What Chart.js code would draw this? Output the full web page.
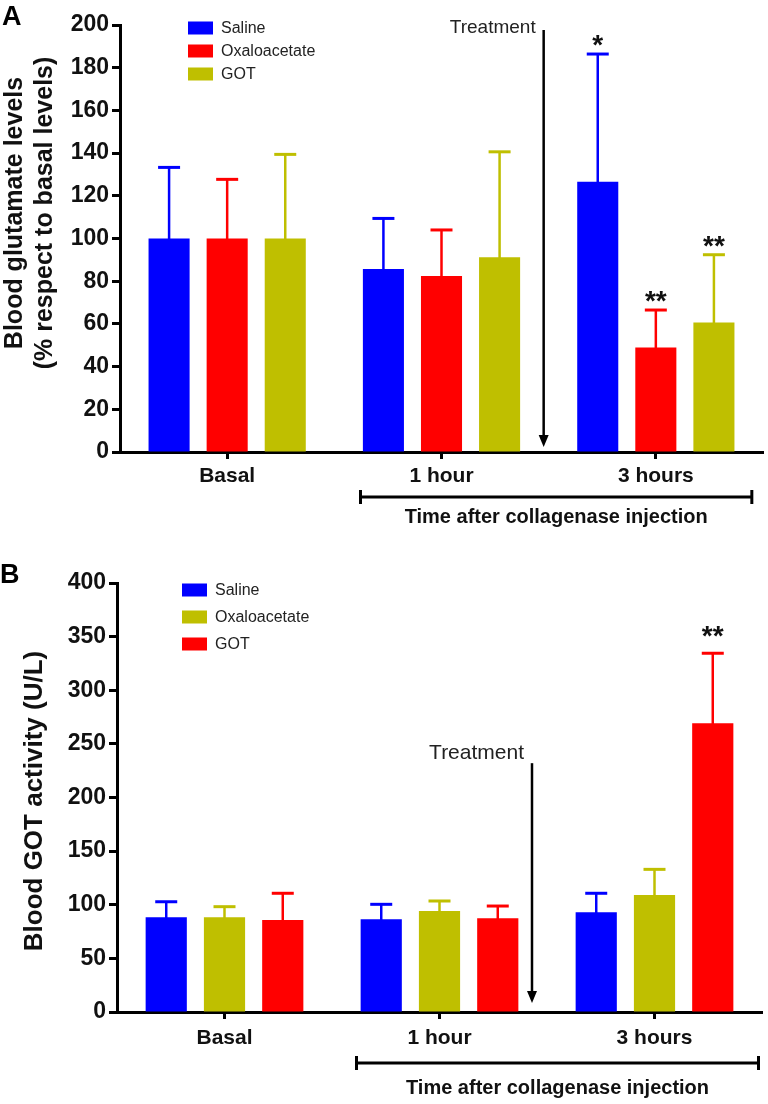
<!DOCTYPE html>
<html>
<head>
<meta charset="utf-8">
<script src="https://cdn.jsdelivr.net/npm/chart.js@4.4.1/dist/chart.umd.min.js"></script>
<style>
html,body{margin:0;padding:0;background:#fff;}
canvas{position:absolute;left:0;}
#chartA{top:0;}
#chartB{top:540px;}
</style>
</head>
<body>
<canvas id="chartA" width="768" height="540"></canvas>
<canvas id="chartB" width="768" height="564"></canvas>
<script>
var timeLabels = ['Basal', '1 hour', '3 hours'];

// panel A - blood glutamate, % of basal
var glutSaline = [100, 85.7, 126.6];
var glutSalineErr = [33.3, 23.7, 59.8];
var glutOxa = [100, 82.4, 48.9];
var glutOxaErr = [27.7, 21.6, 17.6];
var glutGot = [100, 91.2, 60.7];
var glutGotErr = [39.4, 49.4, 31.7];
var glutStars = [['', '', '*'], ['', '', '**'], ['', '', '**']];

// panel B - blood GOT activity (U/L)
var gotSaline = [88.3, 86.4, 93];
var gotSalineErr = [14.5, 14, 17.7];
var gotOxa = [88.3, 94.2, 109.1];
var gotOxaErr = [9.9, 9.3, 23.9];
var gotGot = [85.8, 87.4, 269.2];
var gotGotErr = [24.9, 11.4, 65.3];
var gotStars = [['', '', ''], ['', '', ''], ['', '', '**']];

var BLUE = '#0000ff', RED = '#ff0000', OLIVE = '#bfbf00';
var FONT = '"Liberation Sans", Arial, sans-serif';

var extrasPlugin = {
    id: 'extras',
    afterDatasetsDraw: function(chart, args, o) {
        var ctx = chart.ctx;
        var xs = chart.scales.x, ys = chart.scales.y;
        var area = chart.chartArea;
        ctx.save();

        // error bars + stars
        chart.data.datasets.forEach(function(ds, i) {
            var meta = chart.getDatasetMeta(i);
            meta.data.forEach(function(bar, j) {
                var top = ys.getPixelForValue(ds.data[j] + ds.err[j]);
                ctx.strokeStyle = ds.backgroundColor;
                ctx.lineWidth = 2.5;
                ctx.beginPath();
                ctx.moveTo(bar.x, bar.y + 1);
                ctx.lineTo(bar.x, top);
                ctx.stroke();
                ctx.lineWidth = 3;
                ctx.beginPath();
                ctx.moveTo(bar.x - 11, top);
                ctx.lineTo(bar.x + 11, top);
                ctx.stroke();
                if (ds.stars[j]) {
                    ctx.fillStyle = '#111';
                    ctx.font = 'bold 28px ' + FONT;
                    ctx.textAlign = 'center';
                    ctx.textBaseline = 'alphabetic';
                    ctx.fillText(ds.stars[j], bar.x, top + o.starShift);
                }
            });
        });

        // legend
        ctx.font = '16px ' + FONT;
        ctx.textAlign = 'left';
        ctx.textBaseline = 'middle';
        chart.data.datasets.forEach(function(ds, i) {
            var cy = o.legendY + i * o.legendGap;
            ctx.fillStyle = ds.backgroundColor;
            ctx.fillRect(o.legendX, cy - 6.5, 25, 13);
            ctx.fillStyle = '#222';
            ctx.fillText(ds.label, o.legendX + 33, cy + 1);
        });

        // treatment arrow
        var ax = (xs.getPixelForValue(1) + xs.getPixelForValue(2)) / 2 + o.arrowShift;
        var aTop = ys.getPixelForValue(o.arrowFrom);
        var aTip = ys.getPixelForValue(o.arrowTo);
        ctx.strokeStyle = '#000';
        ctx.fillStyle = '#000';
        ctx.lineWidth = 2.5;
        ctx.beginPath();
        ctx.moveTo(ax, aTop);
        ctx.lineTo(ax, aTip - 8);
        ctx.stroke();
        ctx.beginPath();
        ctx.moveTo(ax - 5, aTip - 12);
        ctx.lineTo(ax + 5, aTip - 12);
        ctx.lineTo(ax, aTip);
        ctx.closePath();
        ctx.fill();
        ctx.fillStyle = '#222';
        ctx.font = o.treatFont + 'px ' + FONT;
        ctx.textAlign = 'right';
        ctx.textBaseline = 'middle';
        ctx.fillText('Treatment', ax - o.treatDx, aTop + o.treatDy);

        // bracket under the time points
        var bl = xs.getPixelForValue(1) + o.bracketL;
        var br = xs.getPixelForValue(2) + o.bracketR;
        var by = area.bottom + o.bracketY;
        ctx.strokeStyle = '#000';
        ctx.lineWidth = 3;
        ctx.beginPath();
        ctx.moveTo(bl, by);
        ctx.lineTo(br, by);
        ctx.moveTo(bl, by - 7);
        ctx.lineTo(bl, by + 7);
        ctx.moveTo(br, by - 7);
        ctx.lineTo(br, by + 7);
        ctx.stroke();
        ctx.fillStyle = '#111';
        ctx.font = 'bold 20px ' + FONT;
        ctx.textAlign = 'center';
        ctx.textBaseline = 'middle';
        ctx.fillText('Time after collagenase injection', (bl + br) / 2, area.bottom + o.bracketText);

        // y title
        ctx.font = 'bold ' + o.titleSize + 'px ' + FONT;
        o.title.forEach(function(line, k) {
            ctx.save();
            ctx.translate(o.titleX[k], o.titleY);
            ctx.rotate(-Math.PI / 2);
            ctx.fillText(line, 0, 0);
            ctx.restore();
        });

        // panel letter
        ctx.font = 'bold 27px ' + FONT;
        ctx.textAlign = 'left';
        ctx.textBaseline = 'alphabetic';
        ctx.fillStyle = '#000';
        ctx.fillText(o.letter, o.letterX, o.letterY);

        ctx.restore();
    }
};

function makeChart(id, names, colors, values, errs, stars, yMax, yStep, leftW, pad, xH, tickPad, extras) {
    var datasets = [];
    for (var i = 0; i < names.length; i++) {
        datasets.push({
            label: names[i],
            data: values[i],
            err: errs[i],
            stars: stars[i],
            backgroundColor: colors[i],
            categoryPercentage: 0.813,
            barPercentage: 0.707
        });
    }
    return new Chart(document.getElementById(id), {
        type: 'bar',
        data: {labels: timeLabels, datasets: datasets},
        plugins: [extrasPlugin],
        options: {
            responsive: false,
            animation: false,
            layout: {padding: pad},
            plugins: {
                legend: {display: false},
                tooltip: {enabled: false},
                extras: extras
            },
            scales: {
                x: {
                    offset: true,
                    grid: {display: true, drawOnChartArea: false, offset: false, tickLength: 7, tickWidth: 3, tickColor: '#000'},
                    border: {color: '#000', width: 3},
                    ticks: {color: '#111', padding: tickPad, font: {family: FONT, size: 21, weight: 'bold'}},
                    afterFit: function(s) { s.height = xH; }
                },
                y: {
                    min: 0,
                    max: yMax,
                    grid: {display: true, drawOnChartArea: false, tickLength: 8, tickWidth: 3, tickColor: '#000'},
                    border: {color: '#000', width: 3},
                    ticks: {stepSize: yStep, color: '#111', padding: 3, font: {family: FONT, size: 23, weight: 'bold'}},
                    afterFit: function(s) { s.width = leftW; }
                }
            }
        }
    });
}

makeChart('chartA', ['Saline', 'Oxaloacetate', 'GOT'], [BLUE, RED, OLIVE],
    [glutSaline, glutOxa, glutGot], [glutSalineErr, glutOxaErr, glutGotErr], glutStars,
    200, 20, 120, {left: 0, right: 5, top: 25, bottom: 0}, 88, 5, {
        starShift: 0,
        legendX: 188, legendY: 28, legendGap: 23,
        arrowShift: -5, arrowFrom: 197.7, arrowTo: 2.3,
        treatFont: 19, treatDx: 8, treatDy: -2,
        bracketL: -81, bracketR: 96, bracketY: 45, bracketText: 65,
        title: ['Blood glutamate levels', '(% respect to basal levels)'],
        titleX: [15, 45], titleY: 213, titleSize: 25,
        letter: 'A', letterX: 2, letterY: 25
    });

makeChart('chartB', ['Saline', 'Oxaloacetate', 'GOT'], [BLUE, OLIVE, RED],
    [gotSaline, gotOxa, gotGot], [gotSalineErr, gotOxaErr, gotGotErr], gotStars,
    400, 50, 117, {left: 0, right: 6, top: 43, bottom: 0}, 92, 7, {
        starShift: -8,
        legendX: 182, legendY: 50, legendGap: 27,
        arrowShift: -15, arrowFrom: 232, arrowTo: 8.4,
        treatFont: 21, treatDx: 8, treatDy: -10,
        bracketL: -83, bracketR: 104, bracketY: 51, bracketText: 76,
        title: ['Blood GOT activity (U/L)'],
        titleX: [35], titleY: 261, titleSize: 26,
        letter: 'B', letterX: 0, letterY: 43
    });
</script>
</body>
</html>
